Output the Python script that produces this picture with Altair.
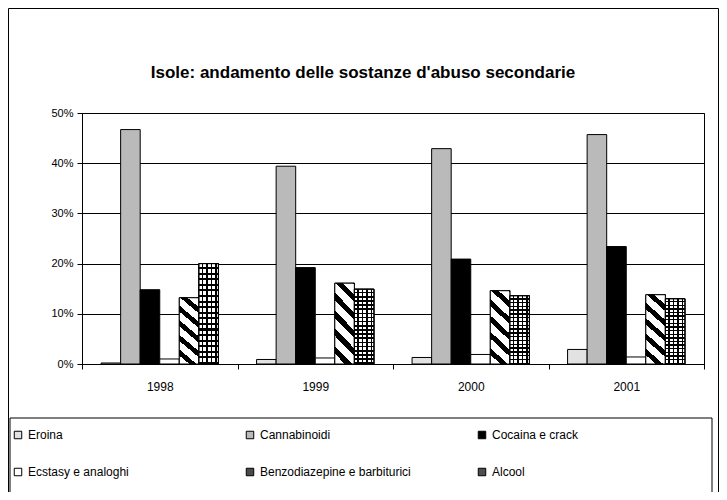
import altair as alt
import pandas as pd

years = ["1998", "1999", "2000", "2001"]
series = ["Eroina", "Cannabinoidi", "Cocaina e crack", "Ecstasy e analoghi",
          "Benzodiazepine e barbiturici", "Alcool"]
eroina = [0.2, 0.9, 1.3, 2.9]
cannabinoidi = [46.7, 39.4, 42.9, 45.7]
cocaina = [14.8, 19.2, 20.9, 23.4]
ecstasy = [1.0, 1.2, 1.9, 1.4]
benzo = [13.2, 16.1, 14.6, 13.8]
alcool = [20.0, 14.9, 13.6, 13.0]
y_ticks = [0, 0.1, 0.2, 0.3, 0.4, 0.5]

values = [eroina, cannabinoidi, cocaina, ecstasy, benzo, alcool]
rows = []
for s, vals in zip(series, values):
    for yr, v in zip(years, vals):
        rows.append({"year": yr, "series": s, "value": v / 100})
df = pd.DataFrame(rows)

colors = ["#e2e2e2", "#bababa", "#000000", "#ffffff", "#4a4a4a", "#4e4e4e"]
FONT = "Liberation Sans"


def stripe_stops(period, dark_frac, light, dark):
    stops = []
    t = 0.0
    while t < 1.0:
        a = round(min(t + period * (1 - dark_frac), 1.0), 4)
        b = round(min(t + period, 1.0), 4)
        stops += [{"offset": round(t, 4), "color": light}, {"offset": a, "color": light},
                  {"offset": a, "color": dark}, {"offset": b, "color": dark}]
        t += period
    return stops


hatch = {"gradient": "linear", "x1": 0, "y1": 1, "x2": 1, "y2": -3,
         "stops": stripe_stops(0.052, 0.42, "#ffffff", "#000000")}
cols = {"gradient": "linear", "x1": 0, "y1": 0, "x2": 1, "y2": 0,
        "stops": stripe_stops(0.23, 0.38, "#ffffff", "#000000")}
rowsg = {"gradient": "linear", "x1": 0, "y1": 0, "x2": 0, "y2": 1,
         "stops": stripe_stops(1 / 18, 0.38, "rgba(0,0,0,0)", "#000000")}

base = alt.Chart(df).encode(
    x=alt.X("year:N", sort=years,
            scale=alt.Scale(paddingInner=0, paddingOuter=0),
            axis=alt.Axis(title=None, labelAngle=0, tickBand="extent", ticks=True,
                          tickSize=5, labelPadding=12, labelFontSize=12, grid=False)),
    xOffset=alt.XOffset("series:N", sort=series,
                        scale=alt.Scale(domain=series, paddingInner=0, paddingOuter=0.975)),
    y=alt.Y("value:Q", scale=alt.Scale(domain=[0, 0.5]),
            axis=alt.Axis(title=None, format=".0%", values=y_ticks, grid=True,
                          gridColor="black", gridOpacity=1, gridWidth=1,
                          tickSize=5, labelPadding=4, labelFontSize=11)),
)

bars = base.mark_bar(stroke="black", strokeWidth=1).encode(
    color=alt.Color("series:N", sort=series,
                    scale=alt.Scale(domain=series, range=colors),
                    legend=alt.Legend(title=None, orient="none", legendX=-70, legendY=316,
                                      direction="horizontal",
                                      columns=3, gridAlign="all", columnPadding=65,
                                      rowPadding=25, symbolType="square", symbolSize=56,
                                      symbolStrokeColor="black", symbolStrokeWidth=1,
                                      symbolOpacity=1, labelFontSize=12, labelFont=FONT,
                                      labelColor="black", labelOffset=4, padding=0,
                                      labelLimit=300))
)

benzo_l = base.transform_filter(alt.datum.series == series[4]).mark_bar(
    fill=hatch, stroke="black", strokeWidth=1)
alc_cols = base.transform_filter(alt.datum.series == series[5]).mark_bar(
    fill=cols, stroke="black", strokeWidth=1)
alc_rows = base.transform_filter(alt.datum.series == series[5]).mark_bar(
    fill=rowsg, stroke="black", strokeWidth=1)

frame_data = alt.Data(values=[{"k": 1}])
outer = alt.Chart(frame_data).mark_rect(fill="transparent", stroke="black", strokeWidth=1).encode(
    x=alt.value(-73.5), x2=alt.value(636.5), y=alt.value(-104.5), y2=alt.value(400))
legbox = alt.Chart(frame_data).mark_rect(fill="transparent", stroke="black", strokeWidth=1).encode(
    x=alt.value(-72), x2=alt.value(630), y=alt.value(305), y2=alt.value(382))

chart = alt.layer(outer, legbox, bars, benzo_l, alc_cols, alc_rows).properties(
    width=622, height=251,
    autosize="none",
    padding={"left": 74, "top": 105, "right": 15, "bottom": 128},
    title=alt.TitleParams("Isole: andamento delle sostanze d'abuso secondarie",
                          fontSize=17, fontWeight="bold", font=FONT, color="black",
                          anchor="middle", dx=-30, offset=-74),
).configure_view(stroke="black", strokeWidth=1).configure_axis(
    domainColor="black", tickColor="black", labelColor="black", labelFont=FONT
)

chart.save("out.html", embed_options={"renderer": "svg", "actions": False})
